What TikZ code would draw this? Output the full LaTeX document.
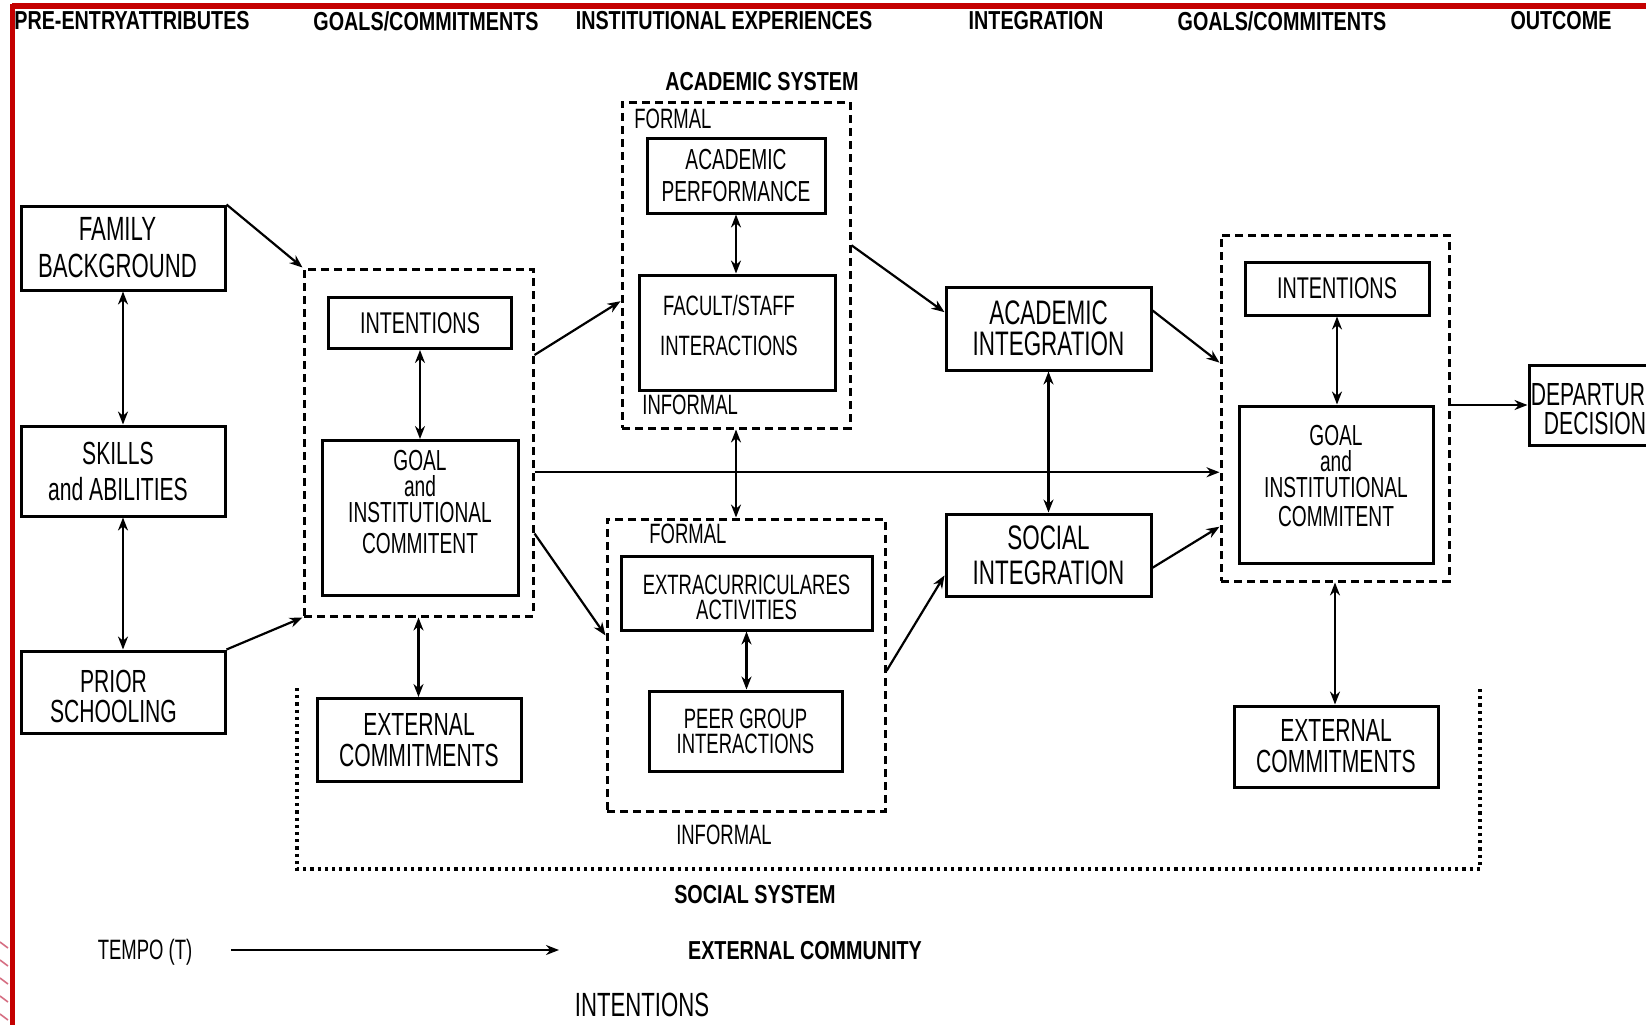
\documentclass[tikz,border=0pt]{standalone}
\usepackage{fontspec}
\setmainfont{Liberation Sans}[FakeStretch=0.66]
\newfontfamily\headfont{Liberation Sans}[FakeStretch=0.76]
\usetikzlibrary{arrows.meta,calc}
\definecolor{framered}{RGB}{196,0,0}
\definecolor{hatchpink}{RGB}{214,110,130}
\tikzset{
	box/.style={draw, line width=1.5pt, align=center, inner sep=0pt},
	sysbox/.style={draw, line width=1.5pt, dash pattern=on 4pt off 2.5pt, inner sep=0pt},
	head/.style={font=\headfont\bfseries\fontsize{13}{15}\selectfont},
	lbl/.style={font=\fontsize{14}{16}\selectfont, inner sep=0pt},
	arr/.style={-{Stealth[length=6.5pt,width=5pt]}, line width=1.1pt},
	darr/.style={{Stealth[length=6.5pt,width=5pt]}-{Stealth[length=6.5pt,width=5pt]}, line width=1.1pt}
}
\begin{document}
\begin{tikzpicture}[x=0.5pt, y=-0.5pt]
	\clip (0,0) rectangle (1646,1025);
	\fill[white] (0,0) rectangle (1646,1025);
	\draw[framered, line width=3pt] (12,6) -- (1646,6);
	\draw[framered, line width=2.5pt] (12,4) -- (12,1025);
	\foreach \y in {942,960,978,996,1014} \draw[hatchpink, line width=0.8pt] (0,\y) -- (8,\y+6);
	\node[head] (h1) at (132,21) {PRE-ENTRYATTRIBUTES};
	\node[head] (h2) at (426,21) {GOALS/COMMITMENTS};
	\node[head] (h3) at (724,21) {INSTITUTIONAL EXPERIENCES};
	\node[head] (h4) at (1036,21) {INTEGRATION};
	\node[head] (h5) at (1282,21) {GOALS/COMMITENTS};
	\node[head] (h6) at (1561,21) {OUTCOME};
	\node[box, minimum width=102pt, minimum height=42pt, font=\fontsize{16.8}{18.5}\selectfont] (fam) at (123,248) {FAMILY\hspace*{5.5pt}\\BACKGROUND\hspace*{5.5pt}};
	\node[box, minimum width=102pt, minimum height=45pt, font=\fontsize{16}{18}\selectfont] (skills) at (123,471) {SKILLS\hspace*{5pt}\\and ABILITIES\hspace*{5pt}};
	\node[box, minimum width=102pt, minimum height=41pt, font=\fontsize{16}{15}\selectfont] (prior) at (123,692) {\rule{0pt}{16pt}PRIOR\hspace*{9.5pt}\\SCHOOLING\hspace*{9.5pt}};
	\node[sysbox, minimum width=114.5pt, minimum height=173.5pt] (gcl) at (418.5,442.5) {};
	\node[box, minimum width=91.5pt, minimum height=25.5pt, font=\fontsize{15}{18}\selectfont] (intl) at (420,323) {INTENTIONS};
	\node[box, minimum width=98pt, minimum height=77.5pt, text depth=16pt, font=\fontsize{14.5}{13}\selectfont] (goall) at (420,518) {GOAL\\and\\INSTITUTIONAL\\[2.5pt]COMMITENT};
	\node[box, minimum width=102pt, minimum height=41.5pt, font=\fontsize{16}{15.5}\selectfont] (extl) at (419,740) {EXTERNAL\\COMMITMENTS};
	\node[head] (acsys) at (762,82) {ACADEMIC SYSTEM};
	\node[sysbox, minimum width=114pt, minimum height=163pt] (acbox) at (736,265) {};
	\node[lbl, anchor=west] (acform) at (634,119) {FORMAL};
	\node[lbl, anchor=west] (acinf) at (642,405) {INFORMAL};
	\node[box, minimum width=89pt, minimum height=37.5pt, font=\fontsize{14.5}{16}\selectfont] (acperf) at (736,175.5) {ACADEMIC\\PERFORMANCE};
	\node[box, minimum width=98pt, minimum height=57.5pt, text depth=7.5pt, font=\fontsize{14}{20}\selectfont] (fac) at (737,332.5) {FACULT/STAFF\hspace*{8pt}\\INTERACTIONS\hspace*{8pt}};
	\node[sysbox, minimum width=139pt, minimum height=146pt] (socbox) at (746,665) {};
	\node[lbl, anchor=west] (soform) at (649,534) {FORMAL};
	\node[lbl] (soinf) at (724,835) {INFORMAL};
	\node[box, minimum width=125.5pt, minimum height=37pt, font=\fontsize{14}{12.5}\selectfont] (extra) at (746.5,593) {\rule{0pt}{14pt}EXTRACURRICULARES\\ACTIVITIES};
	\node[box, minimum width=96.5pt, minimum height=40pt, font=\fontsize{14}{12.5}\selectfont] (peer) at (745.5,731) {PEER GROUP\\INTERACTIONS};
	\node[box, minimum width=102.5pt, minimum height=41.5pt, font=\fontsize{17}{15.5}\selectfont] (acint) at (1048.5,328.5) {ACADEMIC\\INTEGRATION};
	\node[box, minimum width=102.5pt, minimum height=41pt, font=\fontsize{17}{17.5}\selectfont] (socint) at (1048.5,555) {SOCIAL\\INTEGRATION};
	\node[sysbox, minimum width=114pt, minimum height=173pt] (gcr) at (1335,408) {};
	\node[box, minimum width=92pt, minimum height=26.5pt, font=\fontsize{15}{18}\selectfont] (intr) at (1337,288.5) {INTENTIONS};
	\node[box, minimum width=97pt, minimum height=78.5pt, text depth=8.5pt, font=\fontsize{14.5}{13}\selectfont] (goalr) at (1336,484.5) {GOAL\\and\\INSTITUTIONAL\\[1.5pt]COMMITENT};
	\node[box, minimum width=102pt, minimum height=40.5pt, font=\fontsize{16}{15.5}\selectfont] (extr) at (1336,746.5) {EXTERNAL\\COMMITMENTS};
	\node[box, minimum width=66pt, minimum height=40pt, font=\fontsize{16}{14.5}\selectfont] (dep) at (1595,405) {\rule{0pt}{15.5pt}DEPARTURE\\DECISION};
	\draw[line width=1.6pt, dash pattern=on 1.6pt off 2pt] (297,688) |- (1480,869) -- (1480,688);
	\node[head] (socsys) at (755,895) {SOCIAL SYSTEM};
	\node[lbl, font=\fontsize{14}{16}\selectfont] (tempo) at (145,952) {TEMPO (T)};
	\coordinate (tstart) at (231,950);
	\coordinate (tend) at (559,950);
	\node[head] (extcom) at (805,951) {EXTERNAL COMMUNITY};
	\node[lbl, font=\fontsize{16.8}{18}\selectfont] (intbot) at (642,1005) {INTENTIONS};
	\draw[darr] (fam) -- (skills);
	\draw[darr] (skills) -- (prior);
	\draw[arr] (fam.north east) -- (gcl.north west);
	\draw[arr] (prior.north east) -- (gcl.south west);
	\draw[darr] (intl) -- (goall);
	\draw[darr] (gcl.south) -- (gcl.south |- extl.north);
	\draw[arr] ($(gcl.north east)!0.25!(gcl.south east)$) -- ($(acbox.north west)!0.61!(acbox.south west)$);
	\draw[arr] ($(gcl.north east)!0.76!(gcl.south east)$) -- ($(socbox.north west)!0.40!(socbox.south west)$);
	\coordinate (gcmid) at ($(gcl.north east)!0.585!(gcl.south east)$);
	\draw[arr] (gcmid) -- (gcmid -| gcr.west);
	\draw[darr] (acperf.south) -- (acperf.south |- fac.north);
	\draw[darr] (acbox.south) -- (acbox.south |- socbox.north);
	\draw[darr] (extra.south) -- (extra.south |- peer.north);
	\draw[arr] ($(acbox.north east)!0.44!(acbox.south east)$) -- ($(acint.north west)!0.31!(acint.south west)$);
	\draw[arr] ($(socbox.north east)!0.52!(socbox.south east)$) -- ($(socint.north west)!0.74!(socint.south west)$);
	\draw[darr] (acint) -- (socint);
	\draw[arr] ($(acint.north east)!0.29!(acint.south east)$) -- ($(gcr.north west)!0.37!(gcr.south west)$);
	\draw[arr] ($(socint.north east)!0.65!(socint.south east)$) -- ($(gcr.north west)!0.84!(gcr.south west)$);
	\draw[darr] (intr.south) -- (intr.south |- goalr.north);
	\draw[darr] (gcr.south) -- (gcr.south |- extr.north);
	\draw[arr] (gcr.east |- dep.west) -- (dep.west);
	\draw[arr, line width=1.2pt] (tstart) -- (tend);
\end{tikzpicture}
\end{document}
